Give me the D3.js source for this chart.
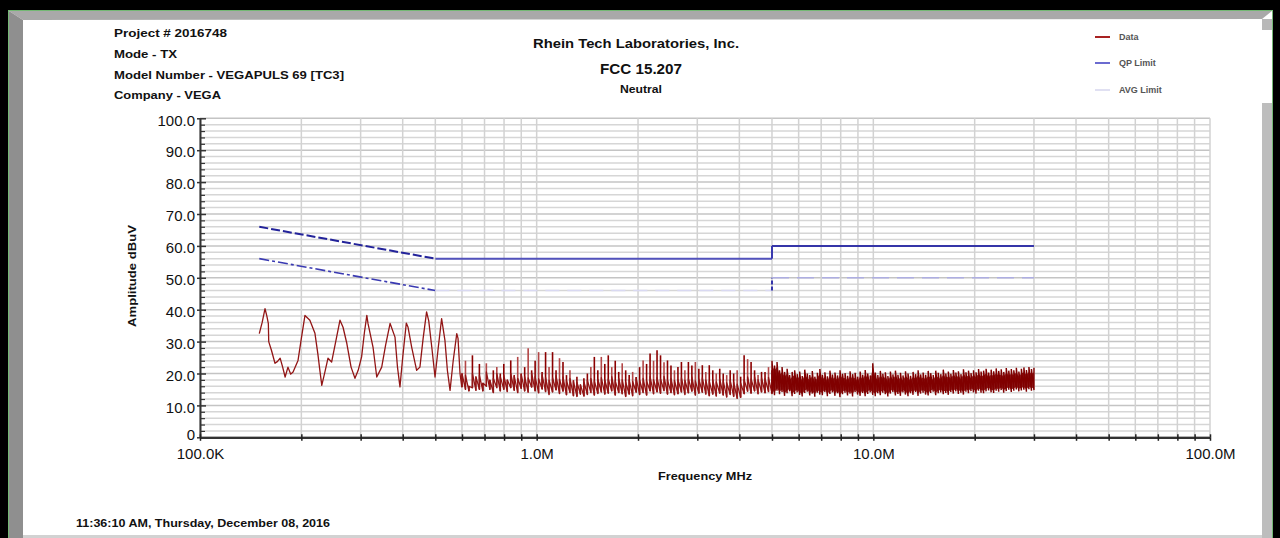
<!DOCTYPE html>
<html>
<head>
<meta charset="utf-8">
<title>FCC 15.207 Neutral</title>
<script src="https://cdn.jsdelivr.net/npm/d3@7"></script>
<style>
  html, body { margin: 0; padding: 0; background: #000; }
  svg { display: block; font-family: "Liberation Sans", Arial, sans-serif; }
</style>
</head>
<body>
<svg id="chart" width="1280" height="538"></svg>
<script>
// ---- report header ----
const headerLines = ["Project # 2016748", "Mode - TX", "Model Number - VEGAPULS 69 [TC3]", "Company - VEGA"];
const titleLines = ["Rhein Tech Laboratories, Inc.", "FCC 15.207", "Neutral"];
const footerText = "11:36:10 AM, Thursday, December 08, 2016";
const legendNames = ["Data", "QP Limit", "AVG Limit"];

// ---- axes ----
const xTickValues = [0.1, 1, 10, 100];                 // MHz
const xTickLabels = ["100.0K", "1.0M", "10.0M", "100.0M"];
const yTickValues = [0, 10, 20, 30, 40, 50, 60, 70, 80, 90, 100];
const yTickLabels = ["0", "10.0", "20.0", "30.0", "40.0", "50.0", "60.0", "70.0", "80.0", "90.0", "100.0"];

// ---- limit lines [MHz, dBuV] ----
const qpLimit  = [[0.15, 66], [0.5, 56], [5, 56], [5, 60], [30, 60]];
const avgLimit = [[0.15, 56], [0.5, 46], [5, 46], [5, 50], [30, 50]];

// ---- measured trace, low band: [MHz, dBuV] ----
const traceLow = [
  [0.150, 32.5], [0.153, 36.0], [0.156, 40.3], [0.158, 38.0], [0.1596, 35.6], [0.1600, 30.0],
  [0.163, 27.3], [0.167, 23.2], [0.170, 23.8], [0.173, 24.8], [0.176, 22.0], [0.179, 18.9],
  [0.1825, 22.0], [0.186, 19.8], [0.189, 20.5], [0.1955, 24.1], [0.200, 31.0], [0.205, 38.2],
  [0.212, 36.7], [0.2195, 32.6], [0.224, 26.0], [0.227, 21.0], [0.230, 16.3], [0.235, 20.5],
  [0.240, 24.8], [0.246, 23.6], [0.253, 30.0], [0.2605, 36.7], [0.266, 34.5], [0.273, 29.4],
  [0.281, 22.0], [0.2886, 18.5], [0.295, 21.0], [0.302, 25.2], [0.308, 33.0], [0.313, 38.2],
  [0.3155, 35.7], [0.3265, 28.3], [0.335, 18.9], [0.3465, 22.0], [0.356, 29.0], [0.367, 35.7],
  [0.3795, 31.4], [0.386, 22.0], [0.3926, 15.8], [0.400, 25.0], [0.410, 35.8], [0.4147, 34.6],
  [0.4253, 28.3], [0.440, 21.0], [0.450, 22.0], [0.460, 31.0], [0.471, 39.3], [0.478, 36.5],
  [0.488, 28.3], [0.499, 18.9], [0.510, 28.0], [0.522, 37.2], [0.534, 30.4], [0.543, 21.0],
  [0.553, 14.7], [0.565, 24.0], [0.579, 32.5], [0.584, 31.0], [0.592, 20.0], [0.599, 15.8]
];

// ---- measured trace, mid band 0.6 - 5 MHz: per-bin peak / floor (dBuV) ----
const bandMidRange = [0.6, 5.0];
const bandMidPeak = [
  20.0, 24.0, 16.0, 25.7, 19.0, 23.0, 17.0, 23.2, 18.0, 21.0, 22.0, 20.0,
  23.0, 18.0, 24.1, 19.5, 25.2, 20.0, 22.0, 27.9, 21.0, 24.0, 26.7, 20.5, 26.7, 22.0, 26.7, 21.0, 24.8, 23.6, 19.5, 21.0,
  17.9, 19.0, 16.5, 18.5, 20.0, 22.0, 25.2, 21.0, 25.2, 23.0,
  25.7, 22.0, 24.0, 20.5, 23.2, 21.0, 19.5, 20.5, 18.9, 22.0,
  24.1, 23.0, 26.3, 24.0, 27.3, 25.7, 23.5, 24.1, 22.5, 21.0,
  22.0, 23.6, 21.0, 23.6, 22.5, 23.6, 21.5, 22.6, 20.5, 22.6,
  21.0, 20.0, 21.5, 20.0, 19.5, 21.0, 20.0, 21.0, 19.0, 25.7,
  24.5, 23.6, 21.0, 19.5, 20.5, 20.5, 22.0, 21.0
];
const bandMidFloor = [
  15.8, 15.0, 14.5, 15.5, 14.7, 15.0, 14.5, 16.0, 15.0, 14.0, 15.5, 14.5,
  15.0, 14.3, 15.5, 14.7, 14.0, 15.3, 14.5, 14.1, 15.7, 14.5, 13.9, 15.1, 14.3, 13.4, 14.2, 14.8, 13.7, 14.4, 13.3, 14.0,
  13.0, 12.8, 13.5, 12.9, 13.4, 14.0, 13.2, 13.7, 14.2, 13.5,
  13.8, 14.5, 13.2, 14.0, 13.6, 12.8, 13.5, 13.0, 14.1, 13.4,
  14.0, 13.2, 14.5, 13.6, 14.2, 13.8, 14.6, 13.5, 14.0, 13.3,
  13.6, 14.2, 13.4, 13.9, 14.4, 13.2, 13.8, 14.1, 13.5, 13.0,
  13.5, 12.9, 13.8, 13.2, 12.6, 13.4, 12.8, 12.2, 12.5, 13.6,
  14.4, 13.8, 14.5, 13.6, 14.2, 13.9, 14.3, 13.7
];

// ---- measured trace, high band 5 - 30 MHz: per-bin peak / floor (dBuV) ----
const bandHighRange = [5.0, 30.0];
const bandHighPeak = [
  24.0, 22.5, 23.6, 21.0, 22.0, 20.5, 21.5, 19.5, 20.5, 21.0,
  19.8, 20.6, 19.2, 21.2, 20.0, 19.5, 20.8, 19.0, 20.2, 21.4,
  19.6, 20.4, 19.1, 20.9, 19.7, 20.3, 19.4, 21.0, 19.9, 20.1,
  19.3, 20.7, 19.8, 20.2, 19.0, 20.6, 19.6, 21.1, 20.0, 19.4,
  23.2, 20.3, 19.5, 20.8, 19.9, 20.4, 19.2, 20.6, 19.7, 20.9,
  19.6, 20.2, 19.4, 20.7, 20.0, 19.3, 20.5, 19.8, 21.0, 19.7,
  20.3, 19.6, 20.8, 20.1, 19.5, 20.9, 20.2, 19.8, 21.2, 20.0,
  20.6, 19.9, 21.1, 20.3, 20.7, 19.8, 21.3, 20.4, 20.9, 20.1,
  21.0, 20.4, 21.4, 20.6, 20.9, 21.5, 20.3, 21.2, 20.7, 21.6,
  20.8, 21.3, 20.5, 21.7, 20.9, 21.4, 21.0, 21.8, 20.6, 21.5,
  21.9, 21.1, 22.0, 21.4, 21.8
];
const bandHighFloor = [
  14.0, 13.2, 14.6, 13.5, 14.2, 13.0, 13.8, 14.4, 12.9, 13.6,
  14.1, 13.3, 12.8, 13.9, 14.3, 13.1, 13.7, 12.7, 14.0, 13.4,
  13.2, 14.2, 12.9, 13.6, 14.1, 13.0, 13.8, 12.6, 13.5, 14.0,
  13.1, 13.7, 12.8, 14.2, 13.4, 13.0, 13.9, 12.9, 13.6, 14.1,
  13.3, 12.9, 13.8, 13.2, 14.0, 13.5, 12.8, 13.7, 14.2, 13.1,
  13.6, 13.0, 14.1, 13.4, 12.9, 13.8, 13.3, 14.2, 13.0, 13.7,
  14.0, 13.4, 13.1, 13.9, 14.3, 13.2, 13.8, 14.1, 13.5, 13.9,
  13.3, 14.2, 13.7, 14.4, 13.6, 14.0, 13.4, 14.3, 13.8, 14.5,
  14.1, 13.7, 14.6, 14.0, 13.8, 14.4, 14.7, 14.1, 13.9, 14.6,
  14.3, 14.8, 14.0, 14.5, 14.9, 14.2, 14.6, 15.0, 14.4, 14.7,
  14.9, 14.3, 15.1, 14.6, 14.8
];

// ================= drawing =================
const svg = d3.select("#chart");
const W = 1280, H = 538;

// window frame around the report sheet
svg.append("rect").attr("width", W).attr("height", H).attr("fill", "#000");
svg.append("rect").attr("x", 8.5).attr("y", 10.5).attr("width", 1264).attr("height", 530)
  .attr("fill", "#fff").attr("stroke", "#74b874").attr("stroke-width", 1);
svg.append("polygon").attr("points", "9,11 1272,11 1262,19 23,20").attr("fill", "#a9a9a9");
svg.append("polygon").attr("points", "9,11 23,20 23,538 9,538").attr("fill", "#8f8f8f");
svg.append("rect").attr("x", 1262).attr("y", 19).attr("width", 10).attr("height", 11).attr("fill", "#b8b8b8");
svg.append("rect").attr("x", 1262).attr("y", 103).attr("width", 10).attr("height", 435).attr("fill", "#bdbdbd");
svg.append("rect").attr("x", 23).attr("y", 535).attr("width", 1239).attr("height", 3).attr("fill", "#d2d2d2");

// scales
const x = d3.scaleLog().domain([0.1, 100]).range([200, 1210]);
const y = d3.scaleLinear().domain([0, 100]).range([437.3, 118.3]);

// grid
const minorX = [];
[0.1, 1, 10].forEach(d => d3.range(1, 10).forEach(k => minorX.push(d * k)));
minorX.push(100);
const grid = svg.append("g");
grid.selectAll("line.h").data(d3.range(0, 101, 2)).join("line")
  .attr("x1", x(0.1)).attr("x2", x(100))
  .attr("y1", d => y(d)).attr("y2", d => y(d))
  .attr("stroke", d => d % 10 === 0 ? "#c4c4c4" : "#d6d6d6").attr("stroke-width", 1.5);
grid.selectAll("line.v").data(minorX).join("line")
  .attr("y1", y(0)).attr("y2", y(100))
  .attr("x1", d => x(d)).attr("x2", d => x(d))
  .attr("stroke", "#d2d2d2").attr("stroke-width", 1.5);

// y axis
const yAxis = svg.append("g").attr("transform", `translate(${x(0.1)},0)`)
  .call(d3.axisLeft(y).tickValues(yTickValues).tickFormat((d, i) => yTickLabels[i]).tickSize(0).tickPadding(5));
yAxis.select(".domain").attr("stroke", "#333").attr("stroke-width", 2);
yAxis.selectAll("text").attr("font-size", 15).attr("fill", "#111")
  .attr("dy", d => d === 0 ? "0.15em" : "0.45em")
  .attr("font-family", "'Liberation Sans', Arial, sans-serif");
svg.append("g").attr("transform", `translate(${x(0.1) - 3},0)`)
  .call(d3.axisRight(y).tickValues(yTickValues).tickFormat("").tickSize(9))
  .call(g => g.select(".domain").remove())
  .selectAll("line").attr("stroke", "#333").attr("stroke-width", 1.5);
svg.append("g").attr("transform", `translate(${x(0.1)},0)`)
  .call(d3.axisRight(y).tickValues(d3.range(2, 100, 2).filter(v => v % 10)).tickFormat("").tickSize(5))
  .call(g => g.select(".domain").remove())
  .selectAll("line").attr("stroke", "#333").attr("stroke-width", 1.2);

// x axis
const xAxis = svg.append("g").attr("transform", `translate(0,${y(0)})`)
  .call(d3.axisBottom(x).tickValues(xTickValues).tickFormat((d, i) => xTickLabels[i]).tickSize(0).tickPadding(11));
xAxis.select(".domain").attr("stroke", "#333").attr("stroke-width", 2.2);
xAxis.selectAll("text").attr("font-size", 15).attr("fill", "#111")
  .attr("font-family", "'Liberation Sans', Arial, sans-serif");
svg.append("g").attr("transform", `translate(0,${y(0)})`)
  .call(d3.axisBottom(x).tickValues(minorX).tickFormat("").tickSize(3.5))
  .call(g => g.select(".domain").remove())
  .selectAll("line").attr("stroke", "#222").attr("stroke-width", 1.5);
svg.append("g").attr("transform", `translate(0,${y(0)})`)
  .call(d3.axisTop(x).tickValues(minorX).tickFormat("").tickSize(3))
  .call(g => g.select(".domain").remove())
  .selectAll("line").attr("stroke", "#222").attr("stroke-width", 1.5);

// limit lines
const qpStyles = [
  { stroke: "#23239a", width: 2, dash: "9,3" },
  { stroke: "#5252bc", width: 2, dash: null },
  { stroke: "#3a3aae", width: 2, dash: null },
  { stroke: "#3535a8", width: 2, dash: null }
];
const avgStyles = [
  { stroke: "#3a3ab2", width: 1.6, dash: "10,3,3,3" },
  { stroke: "#d9d9f2", width: 1.6, dash: "14,8" },
  { stroke: "#3434aa", width: 2, dash: "4,2" },
  { stroke: "#aeaee2", width: 1.6, dash: "17,8" }
];
function drawLimit(pts, styles) {
  d3.pairs(pts).forEach(([a, b], i) => {
    const s = styles[i];
    svg.append("line")
      .attr("x1", x(a[0])).attr("y1", y(a[1])).attr("x2", x(b[0])).attr("y2", y(b[1]))
      .attr("stroke", s.stroke).attr("stroke-width", s.width)
      .attr("stroke-dasharray", s.dash);
  });
}
drawLimit(avgLimit, avgStyles);
drawLimit(qpLimit, qpStyles);

// measured trace
const line = d3.line().x(d => x(d[0])).y(d => y(d[1]));
function binFreqs(range, n) {
  const [a, b] = range;
  return d3.range(n).map(i => a * Math.pow(b / a, i / (n - 1)));
}
const midF = binFreqs(bandMidRange, bandMidPeak.length);
const highF = binFreqs(bandHighRange, bandHighPeak.length);

// mid band: vertical peak spikes over a jagged noise floor
const midFloorLine = [];
midF.forEach((fr, i) => {
  midFloorLine.push([fr, bandMidFloor[i]]);
  midFloorLine.push([fr, Math.min(bandMidPeak[i], bandMidFloor[i] + 4.5)]);
});
svg.append("g").selectAll("line").data(midF).join("line")
  .attr("x1", d => x(d)).attr("x2", d => x(d))
  .attr("y1", (d, i) => y(bandMidFloor[i])).attr("y2", (d, i) => y(bandMidPeak[i]))
  .attr("stroke", (d, i) => i % 3 === 1 ? "#b34646" : "#8b0000")
  .attr("stroke-width", 1.6);
svg.append("path").attr("d", line(traceLow.concat(midFloorLine)))
  .attr("fill", "none").attr("stroke", "#921515").attr("stroke-width", 1.3).attr("stroke-linejoin", "round");

// high band: dense sweep band
const area = d3.area().x(d => x(d[0])).y0(d => y(d[1])).y1(d => y(d[2]));
svg.append("path")
  .attr("d", area(highF.map((fr, i) => [fr, bandHighFloor[i] + 0.8, bandHighPeak[i] - 1.5])))
  .attr("fill", "#7d0000").attr("opacity", 0.85);
const highPts = [];
highF.forEach((fr, i) => { highPts.push([fr, bandHighFloor[i]]); highPts.push([fr, bandHighPeak[i]]); });
svg.append("path").attr("d", line([[bandMidRange[1], bandMidFloor[bandMidFloor.length - 1]]].concat(highPts)))
  .attr("fill", "none").attr("stroke", "#800000").attr("stroke-width", 1.4);

// header text
const txt = (s, xx, yy, size, len, anchor) => {
  const t = svg.append("text").attr("x", xx).attr("y", yy).text(s)
    .attr("font-size", size).attr("font-weight", "bold").attr("fill", "#111")
    .attr("text-anchor", anchor || "start");
  if (len) t.attr("textLength", len).attr("lengthAdjust", "spacingAndGlyphs");
  return t;
};
const headerLens = [113, 63, 230, 107];
const headerY = [37, 58, 79, 99];
headerLines.forEach((s, i) => txt(s, 114, headerY[i], 10.5, headerLens[i]));

txt(titleLines[0], 636, 48, 13.5, 206, "middle");
txt(titleLines[1], 641, 74, 14, 82, "middle");
txt(titleLines[2], 641, 93, 10, 42, "middle");

// legend
const legendColors = ["#a82222", "#6b6bd0", "#e0e0f2"];
const legendY = [37, 63, 90];
legendNames.forEach((n, i) => {
  svg.append("line").attr("x1", 1095).attr("x2", 1110).attr("y1", legendY[i]).attr("y2", legendY[i])
    .attr("stroke", legendColors[i]).attr("stroke-width", 2);
  svg.append("text").attr("x", 1119).attr("y", legendY[i] + 3).text(n)
    .attr("font-size", 9).attr("fill", "#555").attr("font-weight", "bold");
});

// axis titles
txt("Amplitude dBuV", 0, 0, 10, 102, "middle").attr("transform", "translate(136,276) rotate(-90)");
txt("Frequency MHz", 705, 480, 10, 94, "middle");

// footer
txt(footerText, 76, 527, 10, 254);
</script>
</body>
</html>
